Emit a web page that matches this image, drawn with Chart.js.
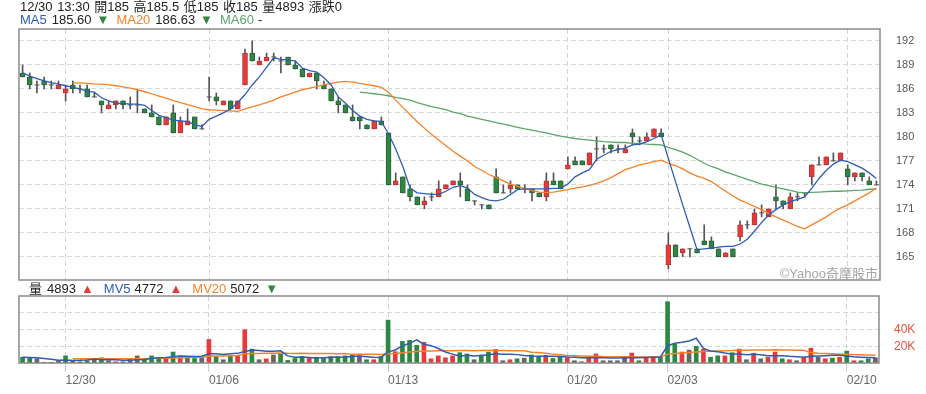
<!DOCTYPE html>
<html>
<head>
<meta charset="utf-8">
<script src="https://cdn.jsdelivr.net/npm/chart.js@4.4.1/dist/chart.umd.min.js"></script>
<style>
  html, body { margin: 0; padding: 0; background: #fff; }
  body { width: 926px; height: 394px; position: relative; overflow: hidden;
         font-family: "Liberation Sans", "Noto Sans CJK TC", sans-serif; }
  .hd { position: absolute; left: 20px; font-size: 13px; line-height: 13px; color: #222; white-space: nowrap; }
  #line1 { word-spacing: 1px; }
  #priceBox { position: absolute; left: 0; top: 0; width: 926px; height: 290px; }
  #volBox { position: absolute; left: 0; top: 283px; width: 926px; height: 111px; }
  #mark { position: absolute; right: 48px; top: 263px; font-size: 13px; color: #a5a5a5; }
</style>
</head>
<body>
<div id="priceBox"><canvas id="price" width="926" height="290"></canvas></div>
<div id="volBox"><canvas id="vol" width="926" height="111"></canvas></div>
<div class="hd" id="line1" style="top:0px"></div>
<div class="hd" id="line2" style="top:12.5px"></div>
<div class="hd" id="line3" style="top:281.5px; left:29px"></div>
<div id="mark">©Yahoo奇摩股市</div>
<script>
// trading days shown, hourly bars (10:00 .. 13:30)
const days = ['12/26', '12/27', '12/30', '12/31', '01/02', '01/03',
  '01/06', '01/07', '01/08', '01/09', '01/10',
  '01/13', '01/14', '01/15', '01/16', '01/17',
  '01/20', '01/21', '01/22',
  '02/03', '02/04', '02/05', '02/06', '02/07', '02/10'];
const sessions = ['10:00', '11:00', '12:00', '13:00', '13:30'];
const tickDates = ['12/30', '01/06', '01/13', '01/20', '02/03', '02/10'];
const priceTicks = [165, 168, 171, 174, 177, 180, 183, 186, 189, 192];
const volTicks = [20000, 40000, 60000];
const volTickLabels = ['20K', '40K', ''];

const open = [
  188, 187.5, 186.5, 187, 186.5, 186, 185.5, 186.5, 186, 186,
  185, 184.5, 183.5, 184, 184.5, 184, 184, 183.5, 183, 182.5,
  181.5, 183, 180.5, 181.5, 182.5, 181, 185, 185, 184, 184.5,
  183.5, 186.5, 190.5, 189, 189.5, 190, 189.5, 190, 189, 188.5,
  187.5, 188, 186.5, 186, 184.5, 184, 182.5, 182.5, 181.5, 181,
  182, 180.5, 174, 175, 173.5, 172.5, 171.5, 172.5, 172.5, 173.5,
  174, 174.5, 173.5, 172, 171.5, 171.5, 175, 173, 173.5, 174,
  173.5, 173.5, 173, 172.5, 174.5, 174.5, 176, 177, 177, 176.5,
  178.5, 178.5, 179, 178.5, 178, 180.5, 179.5, 179.5, 180, 180.5,
  164, 166.5, 165.5, 166, 166, 167, 167, 166, 165, 166,
  167.5, 169, 169, 170.5, 170, 172.5, 172, 171, 172.5, 173,
  175, 176.5, 176.5, 177, 177, 176, 175, 175.5, 174.5, 174];
const high = [
  189, 188, 187, 187.5, 187, 187, 186.5, 187, 186.5, 186.5,
  185.5, 184.5, 184.5, 184.5, 184.5, 185, 186, 183.5, 184, 182.5,
  182.5, 184, 182.5, 183.5, 182.5, 181.5, 187.5, 185.5, 184.5, 184.5,
  184.5, 191, 192, 190, 190.5, 190.5, 190, 190, 189.5, 188.5,
  188, 188, 187, 186, 185, 184, 184, 182.5, 181.5, 182,
  182.5, 180.5, 175.5, 175, 174, 172.5, 172.5, 173, 174.5, 174,
  174.5, 175.5, 174, 172, 171.5, 171.5, 176, 174, 174.5, 174,
  174, 173.5, 173, 175.5, 175.5, 174.5, 177.5, 177.5, 177, 178,
  180, 179, 179, 179, 179, 181, 180, 180.5, 181, 181,
  168, 166.5, 166, 166, 166, 169, 167.5, 166, 165.5, 166,
  169.5, 169.5, 171, 171.5, 171, 174, 172, 173, 173, 173,
  176.5, 177.5, 177.5, 178, 178, 176.5, 175.5, 175.5, 175, 174.5];
const low = [
  187.5, 186, 185.5, 186, 186, 186, 184.5, 185.5, 185.5, 185,
  185, 183, 183.5, 183.5, 183.5, 183.5, 183, 183, 182.5, 181.5,
  181.5, 180.5, 180.5, 181.5, 181, 181, 184.5, 184, 184, 183.5,
  183.5, 186.5, 189.5, 189, 189.5, 189.5, 188, 189, 188.5, 187.5,
  187.5, 186, 186, 184.5, 183, 183, 182, 181, 181, 181,
  181.5, 174, 174, 173, 172, 171.5, 171, 172, 172.5, 173.5,
  174, 172.5, 172, 171.5, 171, 171, 173, 173, 173, 173.5,
  173, 172, 172.5, 172, 174, 173.5, 176, 176.5, 176.5, 176.5,
  177, 178, 178, 178, 178, 179, 179, 179.5, 180, 180,
  163.5, 165, 165, 165, 165.5, 166.5, 166, 165, 165, 165,
  167, 168.5, 169, 170, 170, 171, 171, 171, 172, 172.5,
  174, 176.5, 176.5, 177, 177, 174, 174.5, 174.5, 174, 174];
const close = [
  187.5, 186.5, 186.5, 186.5, 186.5, 186.5, 186, 186, 186, 185,
  185, 184, 184, 184.5, 184, 184, 184, 183, 182.5, 181.5,
  182.5, 180.5, 182, 182, 181, 181, 185, 184.5, 184.5, 183.5,
  184.5, 190.5, 189.5, 189.5, 190, 190, 189.5, 189, 188.5, 187.5,
  188, 187, 186, 184.5, 184, 183, 182, 182, 181, 182,
  181.5, 174, 174.5, 173, 172.5, 171.5, 172, 172.5, 173.5, 174,
  174.5, 174, 172, 172, 171.5, 171, 173, 173, 174, 173.5,
  173.5, 173, 172.5, 174.5, 174, 173.5, 176.5, 176.5, 176.5, 178,
  178.5, 178.5, 178.5, 178.5, 178.5, 180, 179.5, 180, 181, 180,
  166.5, 165, 166, 166, 165.5, 166.5, 166, 165, 165.5, 165,
  169, 169, 170.5, 170.5, 171, 172, 171.5, 172.5, 172.5, 173,
  176.5, 176.5, 177.5, 177, 178, 175, 175.5, 175, 174, 174];
const volume = [
  6900, 6500, 5000, 800, 800, 2700, 8500, 2700, 1500, 2700,
  4893, 6200, 2700, 1500, 1500, 4600, 8500, 3900, 8500, 6900,
  5800, 13100, 8500, 6900, 5400, 6500, 28100, 7700, 3900, 9200,
  8500, 39700, 16600, 3900, 5000, 9600, 10800, 3100, 5400, 7700,
  6500, 6900, 5400, 7700, 7700, 8500, 9600, 8500, 3900, 3900,
  7700, 51200, 13500, 25800, 27000, 21200, 24700, 5000, 8500, 6200,
  8500, 12300, 10800, 3900, 9600, 13100, 16200, 2700, 3900, 5000,
  5800, 9600, 6900, 9200, 5400, 6900, 6200, 2700, 1500, 6900,
  10800, 2700, 2700, 2700, 6900, 11900, 2700, 6200, 7700, 7700,
  73200, 22400, 13100, 15400, 20000, 16600, 6900, 8500, 8500, 12300,
  16600, 3900, 11600, 5000, 6900, 13100, 5000, 3900, 2700, 6900,
  17700, 6900, 5000, 5800, 6900, 14300, 2700, 2700, 5000, 6200];
const ma5 = [
  188.0, 187.6, 187.3, 187.0, 186.8, 186.6, 186.4, 186.2, 186.0, 185.7,
  185.6, 184.9, 184.5, 184.2, 184.2, 184.1, 184.1, 183.95, 183.3, 182.7,
  182.4, 182.1, 182.0, 181.9, 181.55, 181.3, 182.2, 182.6, 183.0, 183.5,
  184.3, 185.3, 186.5, 187.5, 188.7, 189.9, 189.7, 189.6, 189.5, 188.6,
  188.3, 188.1, 187.4, 186.5, 185.0, 184.2, 183.3, 182.6, 182.2, 182.0,
  181.9, 180.4, 178.5, 176.3, 173.6, 173.0, 172.9, 172.8, 172.8, 173.2,
  173.7, 173.9, 173.6, 172.8, 172.4, 172.1, 172.0, 172.2, 172.8, 173.4,
  173.5, 173.5, 173.5, 173.5, 173.55, 173.6, 174.1, 175.0, 175.5, 175.9,
  177.2, 177.7, 178.2, 178.4, 178.6, 179.0, 179.1, 179.4, 179.8, 180.25,
  177.3, 174.4, 171.5, 168.7, 165.9, 166.0, 166.1, 166.2, 166.3, 166.3,
  166.6, 167.2, 168.2, 169.3, 170.25, 170.9, 171.5, 171.9, 172.2, 172.5,
  173.6, 174.8, 175.8, 176.6, 177.1, 176.9, 176.5, 176.1, 175.5, 174.8];
const ma20 = [
  null, null, null, null, null, null, null, 186.75, 186.75, 186.7,
  186.63, 186.6, 186.5, 186.4, 186.25, 186.1, 185.9, 185.65, 185.4, 185.1,
  184.85, 184.55, 184.3, 184.05, 183.8, 183.5, 183.4, 183.35, 183.3, 183.25,
  183.2, 183.5, 183.75, 184.0, 184.3, 184.6, 185.0, 185.3, 185.6, 185.9,
  186.1, 186.3, 186.5, 186.7, 186.85, 186.95, 186.85, 186.7, 186.55, 186.4,
  186.2, 185.6, 184.6, 183.7, 182.8, 181.9, 181.1, 180.3, 179.6, 178.9,
  178.2, 177.6, 177.0, 176.3, 175.8, 175.3, 174.9, 174.5, 174.1, 173.8,
  173.5, 173.3, 173.1, 173.05, 173.1, 173.25, 173.4, 173.6, 173.75, 173.95,
  174.2, 174.5, 174.9, 175.4, 175.9, 176.2, 176.5, 176.7, 176.9, 177.1,
  176.7, 176.4, 176.0, 175.5, 175.1, 174.8, 174.4, 173.8, 173.2, 172.6,
  172.1, 171.7, 171.3, 170.9, 170.4, 170.0, 169.6, 169.2, 168.8, 168.5,
  169.0, 169.5, 170.0, 170.6, 171.1, 171.5, 172.0, 172.5, 173.0, 173.6];
const ma60 = [
  null, null, null, null, null, null, null, null, null, null,
  null, null, null, null, null, null, null, null, null, null,
  null, null, null, null, null, null, null, null, null, null,
  null, null, null, null, null, null, null, null, null, null,
  null, null, null, null, null, null, null, 185.6, 185.5, 185.4,
  185.3, 185.15, 184.95, 184.8, 184.6, 184.3, 184.05, 183.8, 183.6, 183.4,
  183.1, 182.9, 182.6, 182.4, 182.2, 182.0, 181.8, 181.6, 181.4, 181.2,
  181.0, 180.85, 180.65, 180.5, 180.3, 180.1, 179.95, 179.8, 179.7, 179.6,
  179.5, 179.4, 179.35, 179.3, 179.3, 179.2, 179.2, 179.1, 179.05, 179.0,
  178.7, 178.4, 178.1, 177.7, 177.2, 176.7, 176.3, 176.0, 175.6, 175.3,
  175.0, 174.7, 174.4, 174.1, 173.9, 173.7, 173.5, 173.3, 173.1, 173.0,
  173.05, 173.1, 173.15, 173.2, 173.2, 173.25, 173.3, 173.35, 173.45, 173.5];
const mv5 = [
  6900, 6600, 6200, 5500, 4500, 3200, 3700, 3000, 3200, 3600,
  4772, 4000, 4200, 3900, 3300, 3200, 4000, 4200, 5300, 6400,
  6700, 7500, 8500, 8200, 7900, 8000, 11100, 11000, 10200, 11100,
  11500, 13800, 15600, 14800, 14000, 14000, 14500, 8500, 6800, 7300,
  6700, 5900, 6400, 6800, 6800, 7200, 7800, 8400, 7600, 6800,
  6700, 13300, 15600, 20400, 23500, 27700, 22400, 20700, 17300, 13100,
  10600, 8100, 9200, 8400, 9000, 9900, 11000, 10500, 10500, 10000,
  9000, 8500, 8200, 8000, 8000, 7800, 7200, 6800, 6300, 6200,
  6500, 6200, 6000, 6000, 6200, 6500, 6300, 6600, 7000, 7200,
  20600, 23500, 24800, 26300, 29600, 17500, 14400, 13400, 11900, 10600,
  10700, 10000, 10500, 9900, 8800, 8600, 8800, 8000, 7600, 7000,
  8000, 8500, 8800, 9200, 9300, 8500, 7500, 7000, 6600, 6300];
const mv20 = [
  null, null, null, null, null, null, null, 5000, 5000, 5100,
  5072, 5100, 5100, 5000, 5000, 5000, 5200, 5200, 5400, 5600,
  5700, 6100, 6400, 6600, 6800, 6900, 8000, 8300, 8400, 8700,
  9000, 10600, 11200, 11300, 11500, 11700, 11800, 11500, 11400, 11500,
  11300, 11400, 11200, 11300, 11100, 11200, 10300, 10300, 10300, 10300,
  10100, 10900, 11300, 12200, 13100, 13700, 14200, 14300, 14500, 14600,
  14700, 14800, 14800, 14700, 14800, 14900, 15000, 14900, 14700, 14600,
  14500, 12900, 12500, 11500, 10600, 9800, 8900, 8600, 8300, 8100,
  8000, 7700, 7600, 7500, 7500, 7500, 7300, 7300, 7200, 7300,
  10600, 11400, 11900, 12500, 13200, 13800, 14000, 14300, 14600, 14800,
  15200, 15200, 15500, 15600, 15600, 15700, 15600, 15500, 15300, 15200,
  12400, 11700, 11300, 10900, 10500, 10300, 10000, 9800, 9500, 9200];

const RED = '#e63b3b', GREEN = '#2e8741', GRAY = '#666666';
const BLUE = '#2f5db5', ORANGE = '#f5822a', MGREEN = '#5aa56c';
Chart.defaults.font.family = '"Liberation Sans", "Noto Sans CJK TC", sans-serif';

const labels = [];
days.forEach((d, k) => {
  let slots = sessions;
  if (k === 0) slots = sessions.slice(4);
  if (d === '01/22') slots = sessions.slice(0, 4);
  slots.forEach(t => labels.push(d + ' ' + t));
});
const tickIdx = [];
labels.forEach((l, i) => {
  const d = l.slice(0, 5);
  if (tickDates.includes(d) && (i === 0 || labels[i - 1].slice(0, 5) !== d)) tickIdx.push(i);
});

const wicks = labels.map((_, i) => [low[i], high[i]]);
const bodies = labels.map((_, i) => open[i] === close[i] ? null : [Math.min(open[i], close[i]), Math.max(open[i], close[i])]);
const doji = labels.map((_, i) => open[i] === close[i] ? close[i] : null);
const bodyColor = labels.map((_, i) => close[i] > open[i] ? RED : GREEN);
const bodyBorder = labels.map((_, i) => close[i] > open[i] ? '#b83434' : '#2a5f36');
const volColor = labels.map((_, i) => {
  const prev = i === 0 ? open[0] : close[i - 1];
  return close[i] > prev ? RED : close[i] < prev ? GREEN : GRAY;
});

// header text for the hovered bar (12/30 13:30)
const h = tickIdx[0] + 4;
const tok = (text, color, gap) =>
  '<span style="margin-left:' + gap + 'px;color:' + (color || '#222') + '">' + text + '</span>';
const arrow = (a, b, gap) => a >= b ? tok('▲', RED, gap) : tok('▼', GREEN, gap);
document.getElementById('line1').textContent =
  labels[h] + ' 開' + open[h] + ' 高' + high[h] + ' 低' + low[h] + ' 收' + close[h] +
  ' 量' + volume[h] + ' 漲跌' + (close[h] - close[h - 1]);
document.getElementById('line2').innerHTML =
  tok('MA5', BLUE, 0) + tok(ma5[h].toFixed(2), null, 5) + arrow(ma5[h], ma5[h - 1], 5) +
  tok('MA20', ORANGE, 7) + tok(ma20[h].toFixed(2), null, 5) + arrow(ma20[h], ma20[h - 1], 5) +
  tok('MA60', MGREEN, 7) + tok(ma60[h] === null ? '-' : ma60[h].toFixed(2), null, 4);
document.getElementById('line3').innerHTML =
  tok('量', null, 0) + tok(volume[h], null, 5) + arrow(volume[h], volume[h - 1], 5) +
  tok('MV5', BLUE, 10) + tok(mv5[h], null, 4) + arrow(mv5[h], mv5[h - 1], 6) +
  tok('MV20', ORANGE, 10) + tok(mv20[h], null, 4) + arrow(mv20[h], mv20[h - 1], 6);

const framePlugin = {
  id: 'frame',
  afterDraw(chart) {
    const { ctx, chartArea: a } = chart;
    ctx.save();
    ctx.strokeStyle = '#8a8a8a';
    ctx.lineWidth = 1.5;
    ctx.strokeRect(a.left, a.top, a.right - a.left, a.bottom - a.top);
    ctx.restore();
  }
};

const vGrid = ctx => tickIdx.includes(ctx.index) ? '#d4d4d4' : 'rgba(0,0,0,0)';

new Chart(document.getElementById('price'), {
  type: 'bar',
  data: {
    labels,
    datasets: [
      { type: 'line', data: ma5, borderColor: BLUE, borderWidth: 1.3, pointRadius: 0, order: 0 },
      { type: 'line', data: ma20, borderColor: ORANGE, borderWidth: 1.3, pointRadius: 0, order: 0 },
      { type: 'line', data: ma60, borderColor: MGREEN, borderWidth: 1.3, pointRadius: 0, order: 0 },
      { type: 'line', data: doji, showLine: false, pointStyle: 'line', pointRadius: 2.5,
        borderColor: '#555', borderWidth: 1, order: 1 },
      { data: bodies, backgroundColor: bodyColor, borderColor: bodyBorder, borderWidth: 1,
        borderSkipped: false, barThickness: 5, grouped: false, order: 2 },
      { data: wicks, backgroundColor: '#555', barThickness: 1, grouped: false, order: 3 }
    ]
  },
  options: {
    responsive: false,
    animation: false,
    layout: { padding: { left: 19, top: 29, right: 0, bottom: 10 } },
    plugins: { legend: { display: false }, tooltip: { enabled: false } },
    scales: {
      x: {
        offset: true,
        grid: { offset: false, drawTicks: false, color: vGrid },
        border: { display: false, dash: [5, 3] },
        ticks: { display: false },
        afterFit: s => { s.height = 0; }
      },
      y: {
        position: 'right',
        min: 162.1,
        max: 193.5,
        afterBuildTicks: s => { s.ticks = priceTicks.map(v => ({ value: v })); },
        afterFit: s => { s.width = 46; },
        grid: { color: '#d8d8d8', drawTicks: true, tickLength: 16, tickColor: 'rgba(0,0,0,0)' },
        border: { display: false, dash: [5, 3] },
        ticks: { padding: 0, color: '#555', font: { size: 11 } }
      }
    }
  },
  plugins: [framePlugin]
});

new Chart(document.getElementById('vol'), {
  type: 'bar',
  data: {
    labels,
    datasets: [
      { type: 'line', data: mv5, borderColor: BLUE, borderWidth: 1.5, pointRadius: 0, order: 0 },
      { type: 'line', data: mv20, borderColor: ORANGE, borderWidth: 1.5, pointRadius: 0, order: 0 },
      { data: volume, backgroundColor: volColor, barThickness: 4, order: 1 }
    ]
  },
  options: {
    responsive: false,
    animation: false,
    layout: { padding: { left: 19, top: 13, right: 0, bottom: 0 } },
    plugins: { legend: { display: false }, tooltip: { enabled: false } },
    scales: {
      x: {
        offset: true,
        grid: { offset: false, color: vGrid, tickLength: 9, tickColor: ctx => tickIdx.includes(ctx.index) ? '#c3cfe0' : 'rgba(0,0,0,0)' },
        border: { display: false, dash: [5, 3] },
        ticks: {
          autoSkip: false, maxRotation: 0, minRotation: 0, align: 'start', padding: 1,
          color: '#666', font: { size: 12 },
          callback: (v, i) => tickIdx.includes(i) ? labels[i].slice(0, 5) : ''
        },
        afterFit: s => { s.height = 31; }
      },
      y: {
        position: 'right',
        min: 0,
        max: 80000,
        afterBuildTicks: s => { s.ticks = volTicks.map(v => ({ value: v })); },
        afterFit: s => { s.width = 47; },
        grid: { color: '#d8d8d8', drawTicks: true, tickLength: 15, tickColor: 'rgba(0,0,0,0)' },
        border: { display: false, dash: [5, 3] },
        ticks: {
          padding: 0, color: '#e8503c', font: { size: 12 },
          callback: v => volTickLabels[volTicks.indexOf(v)]
        }
      }
    }
  },
  plugins: [framePlugin]
});
</script>
</body>
</html>
